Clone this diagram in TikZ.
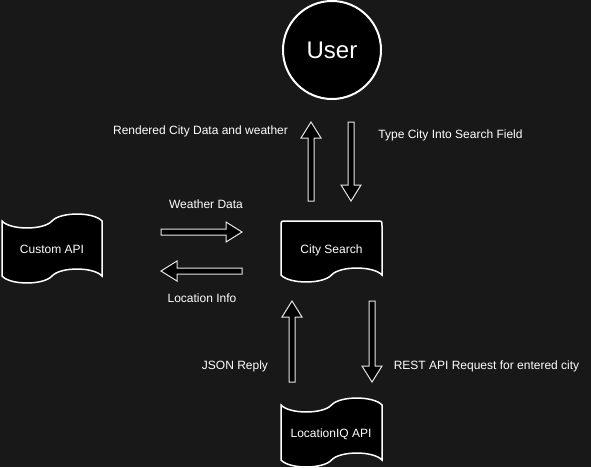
\documentclass[tikz,border=0pt]{standalone}
\usepackage{fontspec}
\setmainfont{Liberation Sans}
\usetikzlibrary{calc}
\definecolor{bgdark}{HTML}{181818}
\definecolor{rim}{HTML}{E6E6E6}
\tikzset{
  shapeline/.style={draw=white, line width=1.5pt, fill=black},
  fatarrow/.style={draw=rim, line width=1pt, fill=black},
  lbl/.style={text=white, font=\fontsize{12}{14}\selectfont, inner sep=0pt},
}
% block arrow from #1 to #2
\newcommand{\blockarrow}[2]{%
  \coordinate (#1head) at ($(#2)!16pt!(#1)$);
  \draw[fatarrow] ($(#1)!3pt!90:(#2)$) -- ($(#1head)!3pt!90:(#2)$)
    -- ($(#1head)!10pt!90:(#2)$) -- (#2) -- ($(#1head)!10pt!-90:(#2)$)
    -- ($(#1head)!3pt!-90:(#2)$) -- ($(#1)!3pt!-90:(#2)$) -- cycle;}
\begin{document}
\begin{tikzpicture}[x=1pt, y=-1pt]
  \fill[bgdark] (0,0) rectangle (591,467);
  \useasboundingbox (0,0) rectangle (591,467);

  % user
  \node[circle, draw=white, line width=2pt, fill=black, minimum size=98pt,
        inner sep=0pt, text=white, font=\fontsize{24}{28}\selectfont] (user) at (332,50) {User};

  % city search
  \draw[shapeline] (281,275) -- (281,226) .. controls (281,221) .. (286,221) -- (377,221)
    .. controls (382,221) .. (382,226) -- (382,275)
    .. controls (373.6,265.7) and (339.9,265.7) .. (331.5,275)
    .. controls (323.1,284.3) and (289.4,284.3) .. (281,275) -- cycle;
  \node[lbl] (city) at (331.5,250) {City Search};

  % custom api
  \draw[shapeline] (2,221) .. controls (10.3,230.3) and (43.7,230.3) .. (52,221)
    .. controls (60.3,211.7) and (93.7,211.7) .. (102,221) -- (102,276)
    .. controls (93.7,266.7) and (60.3,266.7) .. (52,276)
    .. controls (43.7,285.3) and (10.3,285.3) .. (2,276) -- cycle;
  \node[lbl] (custom) at (52,249) {Custom API};

  % locationiq api
  \draw[shapeline] (281,405) .. controls (289.4,414.3) and (323.1,414.3) .. (331.5,405)
    .. controls (339.9,395.7) and (373.6,395.7) .. (382,405) -- (382,460)
    .. controls (373.6,450.7) and (339.9,450.7) .. (331.5,460)
    .. controls (323.1,469.3) and (289.4,469.3) .. (281,460) -- cycle;
  \node[lbl] (locq) at (331,434) {LocationIQ API};

  % arrow ends
  \coordinate (renda) at (311,201);
  \coordinate (rendb) at (311,122);
  \coordinate (typea) at (351,122);
  \coordinate (typeb) at (351,201);
  \coordinate (weata) at (161,232);
  \coordinate (weatb) at (242,232);
  \coordinate (loca) at (242,271);
  \coordinate (locb) at (161,271);
  \coordinate (jsona) at (292,382);
  \coordinate (jsonb) at (292,301);
  \coordinate (resta) at (372,301);
  \coordinate (restb) at (372,382);

  \blockarrow{renda}{rendb}
  \blockarrow{typea}{typeb}
  \blockarrow{weata}{weatb}
  \blockarrow{loca}{locb}
  \blockarrow{jsona}{jsonb}
  \blockarrow{resta}{restb}

  % labels
  \node[lbl] (rendtxt) at (200.5,131) {Rendered City Data and weather};
  \node[lbl] (typetxt) at (450.5,135) {Type City Into Search Field};
  \node[lbl] (weattxt) at (206,204) {Weather Data};
  \node[lbl] (loctxt) at (202,298) {Location Info};
  \node[lbl] (jsontxt) at (235,366) {JSON Reply};
  \node[lbl] (resttxt) at (486.5,366) {REST API Request for entered city};
\end{tikzpicture}
\end{document}
